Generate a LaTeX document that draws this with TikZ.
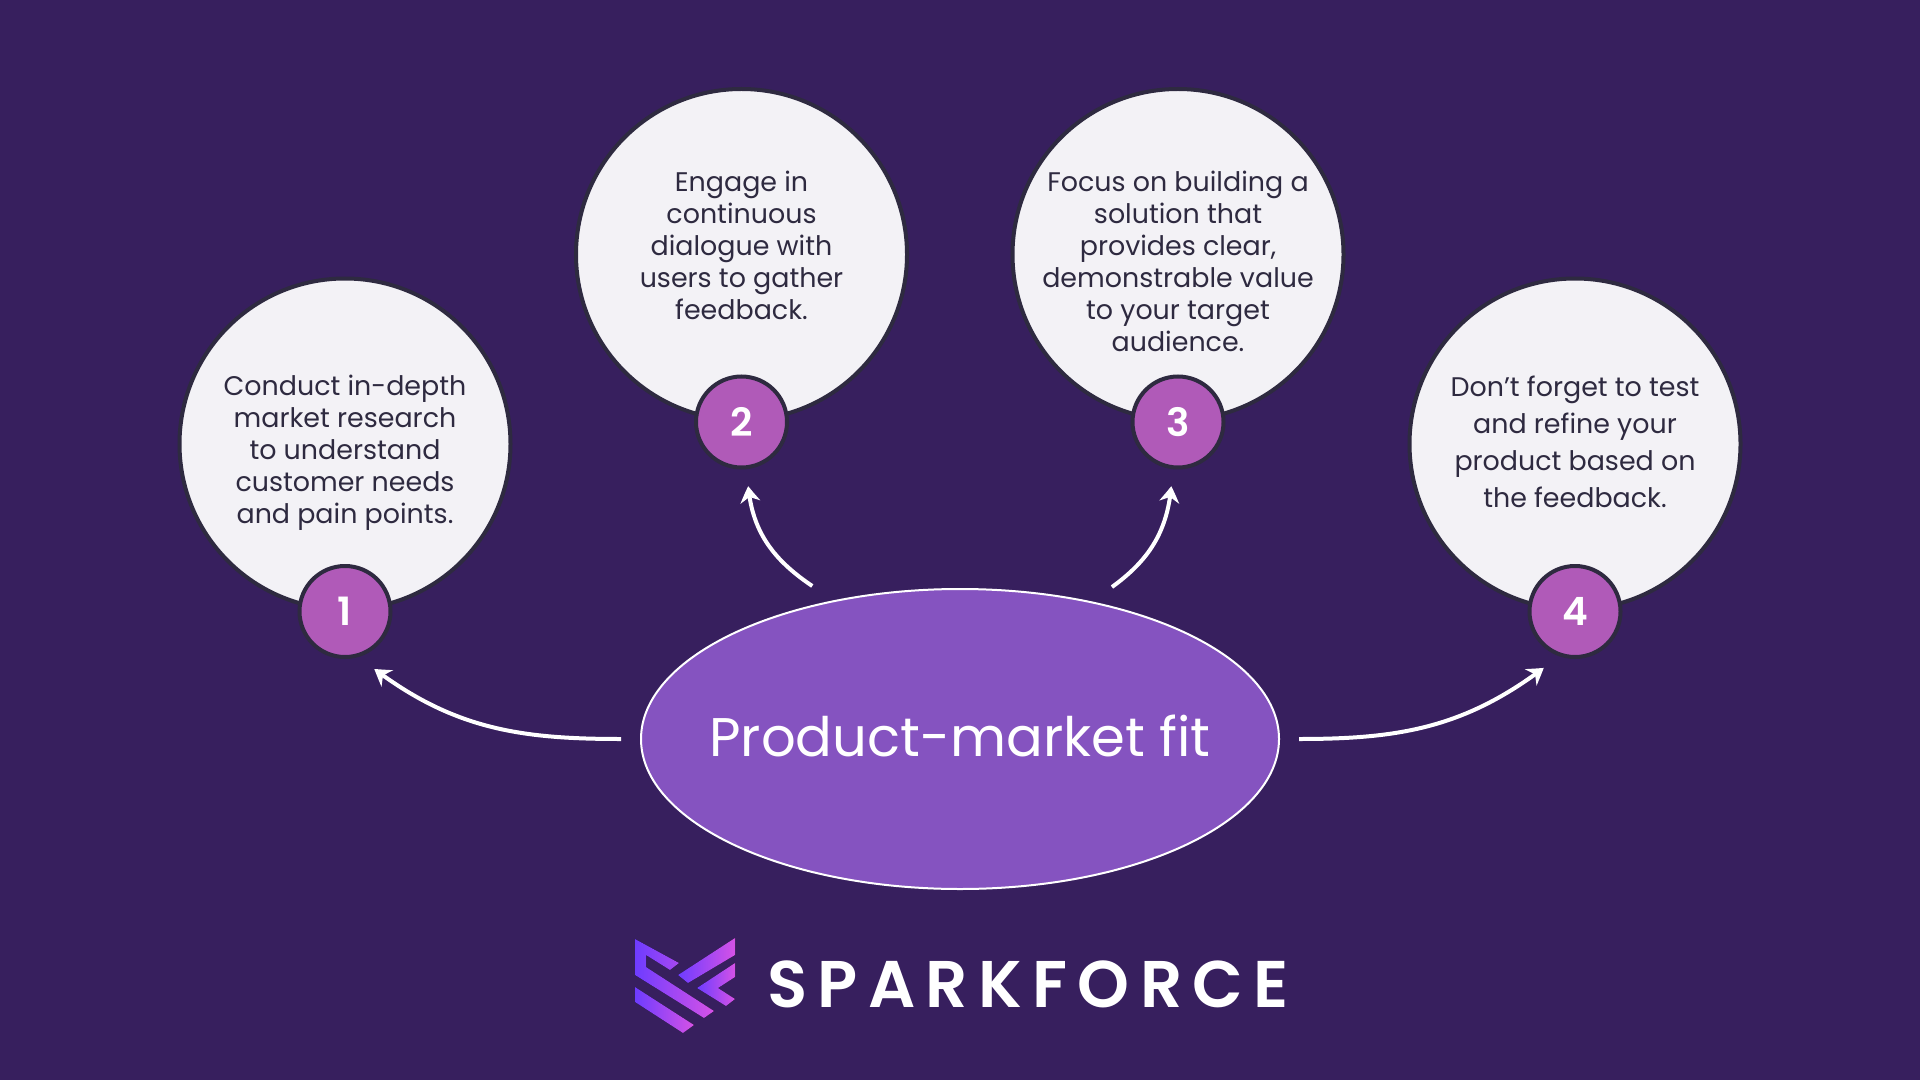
\documentclass[tikz,border=0pt]{standalone}
\usepackage{fontspec}
\setmainfont{Poppins}
\newfontfamily\brandfont[LetterSpace=15.7]{Poppins SemiBold}
\newfontfamily\badgefont{Poppins SemiBold}
\usepackage{tikz}
\usetikzlibrary{arrows.meta, bending, shapes.geometric}
\definecolor{bgviolet}{HTML}{371F5E}
\definecolor{hubviolet}{HTML}{8553C0}
\definecolor{badgepink}{HTML}{B05AB8}
\definecolor{ringdark}{HTML}{2E2A40}
\definecolor{paperwhite}{HTML}{F3F2F6}
\definecolor{logoblue}{HTML}{6E3CFF}
\definecolor{logopink}{HTML}{D552E6}

\begin{document}
\begin{tikzpicture}[
        x=0.5pt, y=-0.5pt,
        step circle/.style={circle, draw=ringdark, line width=2pt, fill=paperwhite, minimum size=165.5pt,
          inner sep=0pt, outer sep=0pt},
        step text/.style={align=center, text=ringdark, font=\fontsize{13.45}{16}\selectfont},
        badge/.style={circle, draw=ringdark, line width=2pt, fill=badgepink, minimum size=45.5pt,
          inner sep=0pt, outer sep=9.5pt, text=white, font=\fontsize{19.5}{22}\badgefont\selectfont},
        flow/.style={draw=white, line width=2pt, -{Stealth[length=8pt, width=10pt, bend]}},
        logopart/.style={left color=logoblue, right color=logopink},
    ]
        \useasboundingbox (0,0) rectangle (1920,1080);
        \fill[bgviolet] (0,0) rectangle (1920,1080);

        \node[step circle] (c1) at (345,444) {};
        \node[step circle] (c2) at (741.5,254.5) {};
        \node[step circle] (c3) at (1178,254.5) {};
        \node[step circle] (c4) at (1575,444) {};

        % texts sit above the badge, not at the middle of the circle
        \node[step text] (t1) at (345,452.5) {Conduct in-depth\\market research\\to understand\\customer needs\\and pain points.};
        \node[step text] (t2) at (741.5,245) {Engage in\\continuous\\dialogue with\\users to gather\\feedback.};
        \node[step text] (t3) at (1178,261) {Focus on building a\\solution that\\provides clear,\\demonstrable value\\to your target\\audience.};
        \node[step text, font=\fontsize{13.45}{18.4}\selectfont] (t4) at (1575,442) {Don’t forget to test\\and refine your\\product based on\\the feedback.};

        \node[badge] (b1) at ([yshift=-1pt]c1.south) {1};
        \node[badge] (b2) at ([yshift=-1pt]c2.south) {2};
        \node[badge] (b3) at ([yshift=-1pt]c3.south) {3};
        \node[badge] (b4) at ([yshift=-1pt]c4.south) {4};

        \node[ellipse, draw=white, line width=1pt, fill=hubviolet, minimum width=319pt, minimum height=150pt,
          inner sep=0pt, outer sep=10pt] (hub) at (960,739) {};
        \node[text=white, font=\fontsize{27.2}{32}\selectfont] (title) at (960,736) {Product-market fit};

        \draw[flow] (hub.180) to[out=180, in=-37] (b1.-63);
        \draw[flow] (hub.134) to[out=146, in=-85] (b2.-84);
        \draw[flow] (hub.45) to[out=36, in=-95] (b3.-96);
        \draw[flow] (hub.0) to[out=0, in=-143] (b4.-119);

        % logo
        \fill[logopart] (635,939) -- (679,963) -- (670,970) -- (646,955) -- (646,967) -- (714,1011) -- (704,1018) -- (635,975) -- cycle;
        \fill[logopart] (635,987) -- (694,1025) -- (683,1033) -- (635,1002) -- cycle;
        \fill[logopart] (735,938) -- (735,955) -- (688,983) -- (678,975) -- cycle;
        \fill[logopart] (735,963) -- (735,977) -- (718,988) -- (735,999) -- (726,1006) -- (697,988) -- cycle;
        \node[text=white, inner sep=0pt, font=\brandfont\fontsize{33}{36}\selectfont] (brand) at (1028,984) {SPARKFORCE};
    \end{tikzpicture}
\end{document}
